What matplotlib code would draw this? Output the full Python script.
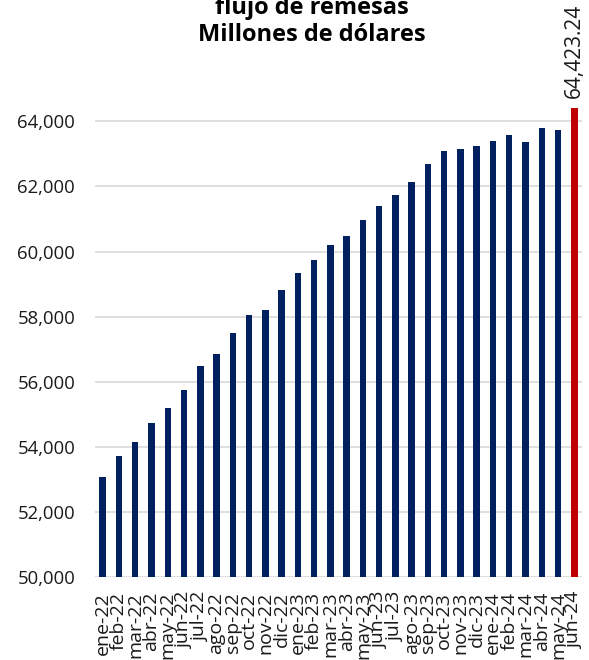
import matplotlib
matplotlib.use('Agg')
import matplotlib.pyplot as plt
from matplotlib.ticker import FuncFormatter

# 字体设置
plt.rcParams['font.family'] = ['Open Sans', 'DejaVu Sans']

# 数据
meses = ['ene-22', 'feb-22', 'mar-22', 'abr-22', 'may-22', 'jun-22', 'jul-22', 'ago-22',
         'sep-22', 'oct-22', 'nov-22', 'dic-22', 'ene-23', 'feb-23', 'mar-23', 'abr-23',
         'may-23', 'jun-23', 'jul-23', 'ago-23', 'sep-23', 'oct-23', 'nov-23', 'dic-23',
         'ene-24', 'feb-24', 'mar-24', 'abr-24', 'may-24', 'jun-24']
remesas = [53050, 53700, 54130, 54720, 55200, 55750, 56480, 56860,
           57500, 58050, 58215, 58830, 59330, 59745, 60215, 60480,
           60975, 61405, 61735, 62145, 62680, 63085, 63160, 63250,
           63405, 63570, 63375, 63785, 63745, 64423.24]
y_ticks = [50000, 52000, 54000, 56000, 58000, 60000, 62000, 64000]

azul = '#002060'
rojo = '#C00000'

fig = plt.figure(figsize=(5.89, 6.6), dpi=100)
ax = fig.add_axes([0.1606, 0.1265, 0.8282, 0.7879])

x = range(len(meses))
colores = [azul] * (len(meses) - 1) + [rojo]
ax.bar(x, remesas, width=0.4, color=colores, zorder=3)

ax.set_ylim(50000, 66000)
ax.set_xlim(-0.5, len(meses) - 0.5)
ax.set_yticks(y_ticks)
ax.yaxis.set_major_formatter(FuncFormatter(lambda v, p: f'{int(v):,}'))
ax.grid(axis='y', color='#d9d9d9', linewidth=1.2, zorder=0)
ax.set_xticks(list(x))
ax.set_xticklabels(meses, rotation=90, fontsize=14, linespacing=0.8)
ax.tick_params(axis='y', length=0, labelsize=13.3, pad=14, colors='#1a1a1a')
ax.tick_params(axis='x', length=0, pad=11, colors='#1a1a1a')
for s in ax.spines.values():
    s.set_visible(False)

# 最后一根柱子的数值标签
ultimo = len(meses) - 1
ax.text(ultimo, remesas[-1] + 300, f'{remesas[-1]:,.2f}', rotation=90,
        ha='center', va='bottom', fontsize=15, color='#1a1a1a')

# 标题（顶部被截断）
fig.text(0.529, 0.967, 'flujo de remesas\nMillones de dólares', ha='center', va='center',
         fontsize=17, fontweight='bold', linespacing=1.15)

fig.savefig('out.png', dpi=100)
